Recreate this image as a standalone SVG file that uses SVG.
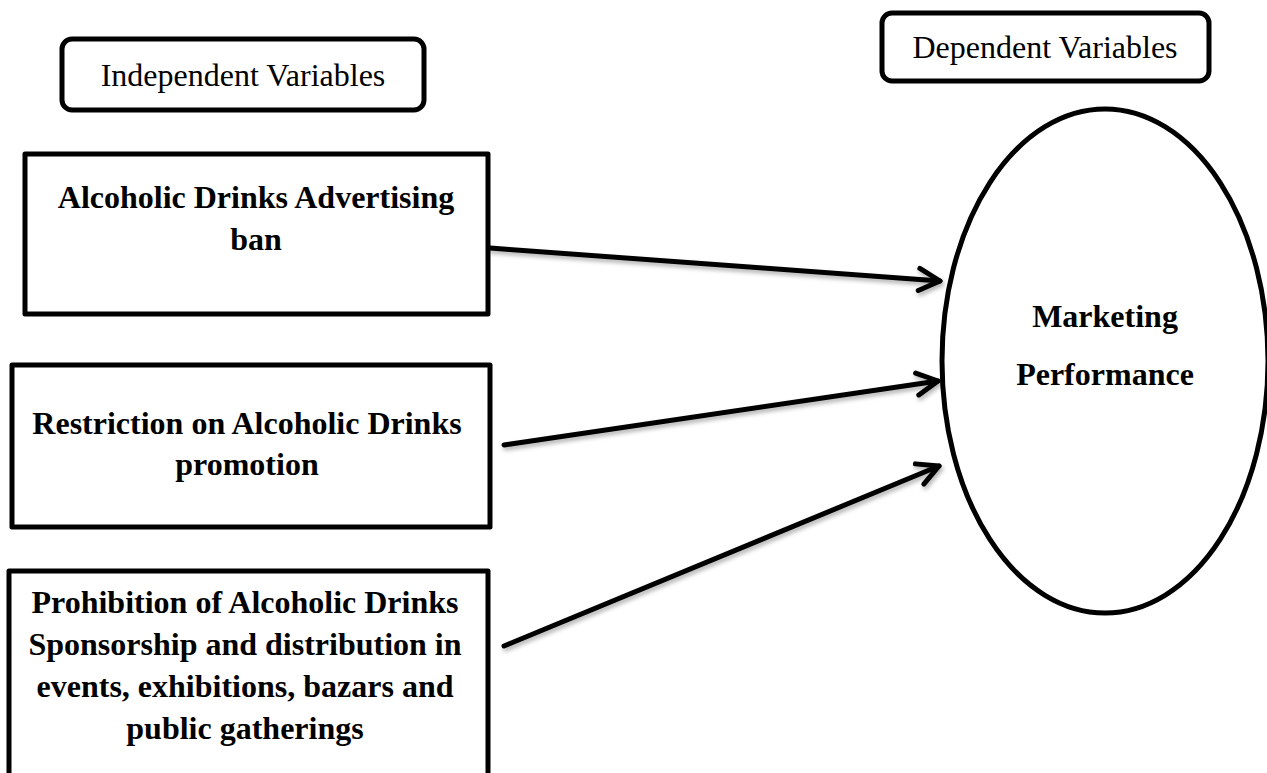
<svg xmlns="http://www.w3.org/2000/svg" width="1267" height="773" viewBox="0 0 1267 773">
<style>
.hdr{fill:#fff;stroke:#000;stroke-width:5}
.box{fill:#fff;stroke:#000;stroke-width:5;stroke-linejoin:round}
.reg{font-family:"Liberation Serif","Times New Roman",serif;font-size:32px;fill:#000;text-anchor:middle}
.bld{font-family:"Liberation Serif","Times New Roman",serif;font-size:32px;font-weight:bold;fill:#000;text-anchor:middle}
.conn{stroke:#000;stroke-width:5;fill:none;stroke-linecap:round}
</style>
<defs>
<filter id="sh" x="-10%" y="-50%" width="120%" height="200%">
<feDropShadow dx="1.5" dy="3" stdDeviation="2" flood-color="#000" flood-opacity="0.3"/>
</filter>
<marker id="arr" markerUnits="userSpaceOnUse" viewBox="-26 -16 32 32" markerWidth="32" markerHeight="32" refX="0" refY="0" orient="auto" overflow="visible">
<path d="M -21 -11 L 0 0 L -21 11" fill="none" stroke="#000" stroke-width="5" stroke-linecap="round" stroke-linejoin="round"/>
</marker>
</defs>
<rect width="1267" height="773" fill="#fff"/>
<g id="independent-header">
<rect class="hdr" x="62" y="39" width="362" height="71" rx="10"/>
<text class="reg" x="243" y="86">Independent Variables</text>
</g>
<g id="dependent-header">
<rect class="hdr" x="882" y="13" width="327" height="68" rx="10"/>
<text class="reg" x="1045" y="58">Dependent Variables</text>
</g>
<g id="node-advertising-ban">
<rect class="box" x="25" y="154" width="463" height="160"/>
<text class="bld" x="256" y="208">Alcoholic Drinks Advertising</text>
<text class="bld" x="256" y="250">ban</text>
</g>
<g id="node-promotion">
<rect class="box" x="12" y="365" width="478" height="162"/>
<text class="bld" x="247" y="434" font-size="31.5">Restriction on Alcoholic Drinks</text>
<text class="bld" x="247" y="475" font-size="31.5">promotion</text>
</g>
<g id="node-sponsorship">
<rect class="box" x="9" y="571" width="479" height="220"/>
<text class="bld" x="245" y="613">Prohibition of Alcoholic Drinks</text>
<text class="bld" x="245" y="655">Sponsorship and distribution in</text>
<text class="bld" x="245" y="697">events, exhibitions, bazars and</text>
<text class="bld" x="245" y="739">public gatherings</text>
</g>
<g id="node-marketing-performance">
<ellipse cx="1105" cy="361" rx="163" ry="252" fill="#fff" stroke="#000" stroke-width="5"/>
<text class="bld" x="1105" y="327">Marketing</text>
<text class="bld" x="1105" y="385">Performance</text>
</g>
<g id="connectors" filter="url(#sh)">
<line class="conn" x1="490" y1="248" x2="940" y2="281" marker-end="url(#arr)"/>
<line class="conn" x1="504" y1="445" x2="938" y2="381" marker-end="url(#arr)"/>
<line class="conn" x1="504" y1="646" x2="939" y2="466" marker-end="url(#arr)"/>
</g>
</svg>
